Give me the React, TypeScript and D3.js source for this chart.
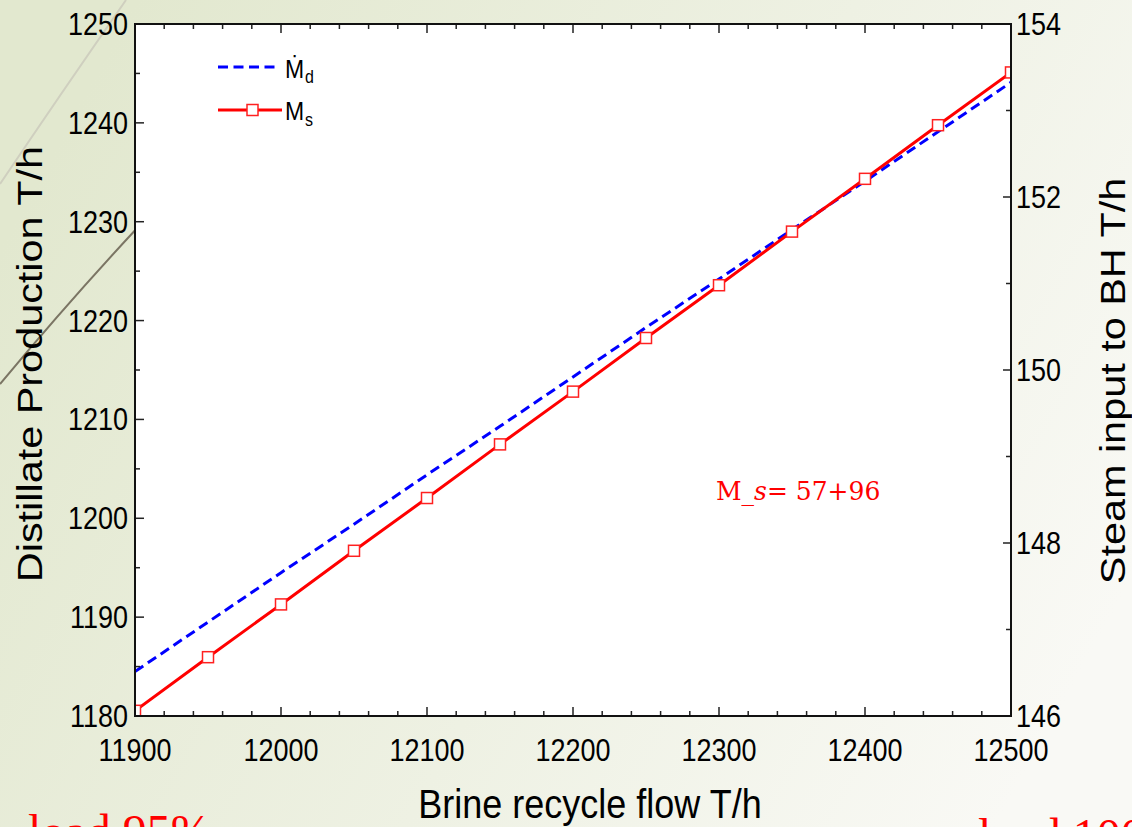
import React from "react";
import * as d3 from "d3";

// brine recycle flow (T/h)
const flowVals = [11900, 11950, 12000, 12050, 12100, 12150, 12200, 12250, 12300, 12350, 12400, 12450, 12500];
// distillate production, left axis
const mdVals = [1184.5, 1189.5, 1194.5, 1199.4, 1204.4, 1209.3, 1214.3, 1219.3, 1224.2, 1229.2, 1234.1, 1239.1, 1244.1];
// steam input to brine heater, right axis
const msVals = [146.06, 146.68, 147.29, 147.91, 148.52, 149.14, 149.75, 150.37, 150.98, 151.6, 152.21, 152.83, 153.44];

const W = 1132;
const H = 827;
const plot = { left: 135, top: 24, right: 1011, bottom: 716 };
const SY = 1.15; // the original figure is stretched vertically
const sans = "'Liberation Sans', Arial, sans-serif";
const serif = "'Liberation Serif', 'Times New Roman', serif";

const Txt = ({ x, y, size, anchor = "start", rotate = 0, fill = "#000", family = sans, children }) => (
  <g transform={`translate(${x},${y}) scale(1,${SY})`}>
    <text
      transform={rotate ? `rotate(${rotate})` : undefined}
      fontSize={size}
      fontFamily={family}
      textAnchor={anchor}
      fill={fill}
    >
      {children}
    </text>
  </g>
);

export default function App() {
  const x = d3.scaleLinear().domain([11900, 12500]).range([plot.left, plot.right]);
  const yL = d3.scaleLinear().domain([1180, 1250]).range([plot.bottom, plot.top]);
  const yR = d3.scaleLinear().domain([146, 154]).range([plot.bottom, plot.top]);

  const mdLine = d3
    .line()
    .x((d, i) => x(flowVals[i]))
    .y(d => yL(d));
  const msLine = d3
    .line()
    .x((d, i) => x(flowVals[i]))
    .y(d => yR(d));

  const xMajor = x.ticks(6);
  const xMinor = x.ticks(30);
  const yLMajor = yL.ticks(7);
  const yLMinor = yL.ticks(14);
  const yRMajor = yR.ticks(4);
  const yRMinor = yR.ticks(8);
  const tickCol = "#222";

  return (
    <svg
      width={W}
      height={H}
      style={{ position: "absolute", left: 0, top: 0, display: "block" }}
    >
      <defs>
        <linearGradient id="bg" x1="0" y1="0.3" x2="1" y2="0.7">
          <stop offset="0" stopColor="#e2e8cf" />
          <stop offset="0.55" stopColor="#eef1e3" />
          <stop offset="1" stopColor="#f9f9f5" />
        </linearGradient>
        <clipPath id="clip">
          <rect x={plot.left} y={plot.top} width={plot.right - plot.left} height={plot.bottom - plot.top} />
        </clipPath>
      </defs>

      <rect x={0} y={0} width={W} height={H} fill="url(#bg)" />
      <path d="M0,184 Q60,95 126,0" fill="none" stroke="#cfcfbf" strokeWidth={2} />
      <path d="M0,384 Q70,300 140,225" fill="none" stroke="#7b7564" strokeWidth={2} />

      <rect
        x={plot.left}
        y={plot.top}
        width={plot.right - plot.left}
        height={plot.bottom - plot.top}
        fill="#fff"
      />

      <g clipPath="url(#clip)">
        <path d={mdLine(mdVals)} fill="none" stroke="#0000ff" strokeWidth={3} strokeDasharray="10,5.5" />
        <path d={msLine(msVals)} fill="none" stroke="#ff0000" strokeWidth={3} />
        {msVals.map((v, i) => (
          <rect
            key={i}
            x={x(flowVals[i]) - 5.5}
            y={yR(v) - 5.5}
            width={11}
            height={11}
            fill="#fff"
            stroke="#ff2020"
            strokeWidth={1.5}
          />
        ))}
      </g>

      {/* ticks, pointing inward */}
      <g stroke={tickCol} strokeWidth={1.5}>
        {xMinor.map(t => {
          const len = xMajor.includes(t) ? 9 : 5;
          return (
            <g key={"x" + t}>
              <line x1={x(t)} x2={x(t)} y1={plot.bottom} y2={plot.bottom - len} />
              <line x1={x(t)} x2={x(t)} y1={plot.top} y2={plot.top + len} />
            </g>
          );
        })}
        {yLMinor.map(t => {
          const len = yLMajor.includes(t) ? 9 : 5;
          return <line key={"l" + t} x1={plot.left} x2={plot.left + len} y1={yL(t)} y2={yL(t)} />;
        })}
        {yRMinor.map(t => {
          const len = yRMajor.includes(t) ? 8 : 5;
          return <line key={"r" + t} x1={plot.right} x2={plot.right - len} y1={yR(t)} y2={yR(t)} />;
        })}
      </g>

      <rect
        x={plot.left}
        y={plot.top}
        width={plot.right - plot.left}
        height={plot.bottom - plot.top}
        fill="none"
        stroke="#111"
        strokeWidth={2}
      />

      {xMajor.map(t => (
        <Txt key={"xl" + t} x={x(t)} y={761} size={27} anchor="middle">
          {t}
        </Txt>
      ))}
      {yLMajor.map(t => (
        <Txt key={"yl" + t} x={128} y={yL(t) + 11} size={27} anchor="end">
          {t}
        </Txt>
      ))}
      {yRMajor.map(t => (
        <Txt key={"yr" + t} x={1016} y={yR(t) + 11} size={27}>
          {t}
        </Txt>
      ))}

      <Txt x={590} y={818} size={36} anchor="middle">
        Brine recycle flow T/h
      </Txt>
      <Txt x={42} y={364} size={36} anchor="middle" rotate={-90}>
        Distillate Production T/h
      </Txt>
      <Txt x={1125} y={381} size={36} anchor="middle" rotate={-90}>
        Steam input to BH T/h
      </Txt>

      {/* legend */}
      <line x1={218} x2={279} y1={67} y2={67} stroke="#0000ff" strokeWidth={3} strokeDasharray="10,5.5" />
      <line x1={218} x2={282} y1={110} y2={110} stroke="#ff0000" strokeWidth={3} />
      <rect x={247} y={104.5} width={11} height={11} fill="#fff" stroke="#ff2020" strokeWidth={1.5} />
      <Txt x={285} y={78} size={23}>
        Ṁ
      </Txt>
      <Txt x={305} y={83} size={16}>
        d
      </Txt>
      <Txt x={285} y={120} size={23}>
        M
      </Txt>
      <Txt x={305} y={126} size={16}>
        s
      </Txt>

      <g transform={`translate(716,500) scale(1,1.05)`}>
        <text fontSize={25} fontFamily="'DejaVu Serif', serif" fill="#ff0000">
          M_<tspan fontStyle="italic">s</tspan>= 57+96
        </text>
      </g>

      <text x={28} y={848} fontSize={48} fontFamily={serif} fill="#ff0000">
        load 95%
      </text>
      <text x={978} y={852} fontSize={48} fontFamily={serif} fill="#ff0000">
        load 100%
      </text>
    </svg>
  );
}
